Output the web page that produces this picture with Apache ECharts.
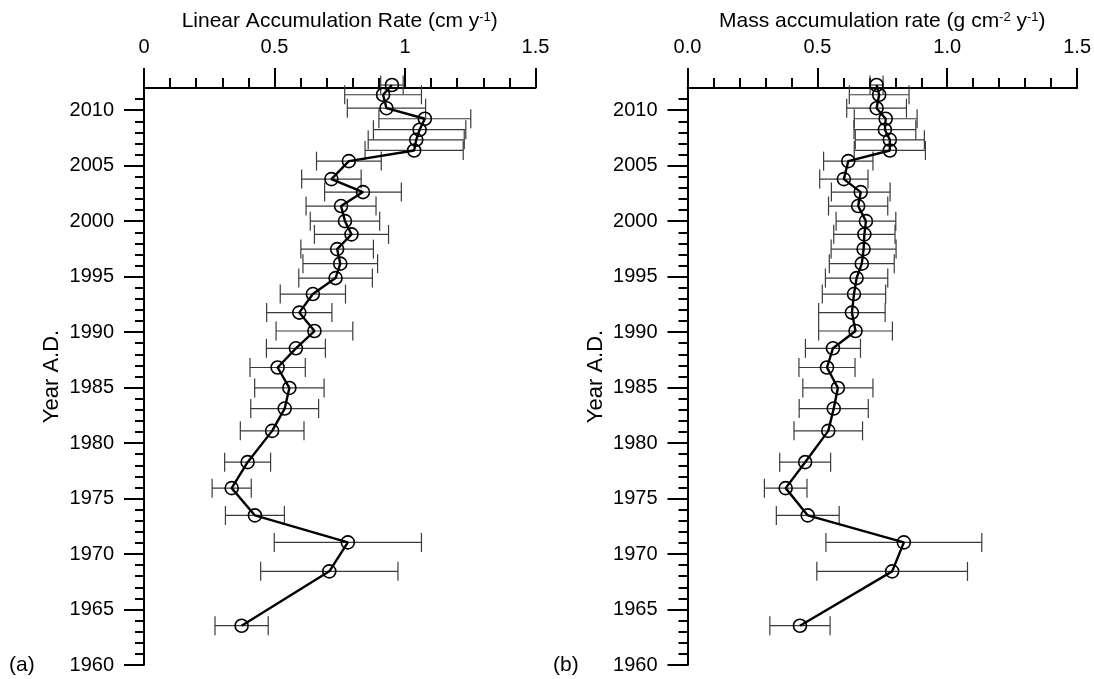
<!DOCTYPE html>
<html>
<head>
<meta charset="utf-8">
<script src="https://cdn.jsdelivr.net/npm/echarts@6/dist/echarts.min.js"></script>
<style>html,body{margin:0;padding:0;background:#fff}#c{width:1094px;height:679px}</style>
</head>
<body>
<div id="c"></div>
<script>
// ---- data ----
const years = [2012.27, 2011.39, 2010.18, 2009.23, 2008.24, 2007.33, 2006.37, 2005.41, 2003.79, 2002.62,
  2001.36, 2000.00, 1998.81, 1997.48, 1996.17, 1994.87, 1993.43, 1991.76, 1990.10, 1988.54,
  1986.81, 1984.97, 1983.11, 1981.10, 1978.28, 1975.94, 1973.48, 1971.05, 1968.44, 1963.54];
const linearRate = [0.950, 0.916, 0.929, 1.076, 1.056, 1.043, 1.035, 0.785, 0.718, 0.839,
  0.755, 0.770, 0.795, 0.740, 0.752, 0.734, 0.647, 0.595, 0.653, 0.582,
  0.512, 0.557, 0.539, 0.491, 0.397, 0.336, 0.425, 0.781, 0.710, 0.374];
const linearErr = [0.043, 0.147, 0.150, 0.176, 0.177, 0.184, 0.188, 0.124, 0.114, 0.147,
  0.134, 0.133, 0.142, 0.139, 0.143, 0.141, 0.125, 0.125, 0.147, 0.113,
  0.106, 0.133, 0.130, 0.122, 0.088, 0.075, 0.113, 0.282, 0.263, 0.102];
const massRate = [0.728, 0.738, 0.728, 0.763, 0.760, 0.779, 0.779, 0.619, 0.602, 0.667,
  0.657, 0.687, 0.681, 0.678, 0.671, 0.651, 0.641, 0.633, 0.647, 0.560,
  0.537, 0.579, 0.563, 0.542, 0.453, 0.378, 0.463, 0.833, 0.788, 0.433];
const massErr = [0.025, 0.115, 0.115, 0.121, 0.119, 0.133, 0.137, 0.095, 0.093, 0.113,
  0.114, 0.115, 0.118, 0.125, 0.125, 0.120, 0.122, 0.128, 0.142, 0.106,
  0.108, 0.135, 0.133, 0.132, 0.098, 0.082, 0.121, 0.300, 0.290, 0.116];
const yTicks = [1960, 1965, 1970, 1975, 1980, 1985, 1990, 1995, 2000, 2005, 2010];
const linearTicks = [0, 0.5, 1, 1.5];
const linearTickLabels = ['0', '0.5', '1', '1.5'];
const massTicks = [0, 0.5, 1, 1.5];
const massTickLabels = ['0.0', '0.5', '1.0', '1.5'];

// ---- chart ----
const FONT = 'Liberation Sans, Arial, sans-serif';
const chart = echarts.init(document.getElementById('c'), null, {renderer: 'canvas'});

function xAxisDef(gridIndex, name, ticks, labels) {
  return {
    type: 'value', gridIndex, position: 'top', min: 0, max: 1.5, interval: 0.5,
    name, nameLocation: 'middle', nameGap: 55,
    nameTextStyle: {fontSize: 21, fontFamily: FONT, color: '#000',
      rich: {sup: {fontSize: 13, fontFamily: FONT, color: '#000', verticalAlign: 'top'}}},
    axisLine: {show: true, lineStyle: {color: '#000', width: 2}},
    axisTick: {show: true, inside: false, length: 20, lineStyle: {color: '#000', width: 2}},
    minorTick: {show: true, splitNumber: 5, length: 10, lineStyle: {color: '#000', width: 2}},
    splitLine: {show: false}, minorSplitLine: {show: false},
    axisLabel: {margin: 31, fontSize: 20, fontFamily: FONT, color: '#000',
      formatter: v => { const i = ticks.findIndex(t => Math.abs(t - v) < 1e-9); return i >= 0 ? labels[i] : ''; }}
  };
}
function yAxisDef(gridIndex) {
  return {
    type: 'value', gridIndex, min: 1960, max: 2012, interval: 5,
    name: 'Year A.D.', nameLocation: 'middle', nameGap: 81,
    nameTextStyle: {fontSize: 22, fontFamily: FONT, color: '#000'},
    axisLine: {show: true, onZero: false, lineStyle: {color: '#000', width: 2}},
    axisTick: {show: true, inside: false, length: 20, customValues: yTicks, lineStyle: {color: '#000', width: 2}},
    minorTick: {show: true, splitNumber: 5, length: 9, lineStyle: {color: '#000', width: 2}},
    splitLine: {show: false}, minorSplitLine: {show: false},
    axisLabel: {margin: 30, fontSize: 20, fontFamily: FONT, color: '#000', customValues: yTicks,
      formatter: v => String(v)}
  };
}
function errRender(params, api) {
  const y = api.value(1), lo = api.value(2), hi = api.value(3);
  const p1 = api.coord([lo, y]);
  const p2 = api.coord([hi, y]);
  const h = 9.5;
  const style = {stroke: '#3a3a3a', lineWidth: 1.2};
  return {type: 'group', children: [
    {type: 'line', shape: {x1: p1[0], y1: p1[1], x2: p2[0], y2: p2[1]}, style},
    {type: 'line', shape: {x1: p1[0], y1: p1[1] - h, x2: p1[0], y2: p1[1] + h}, style},
    {type: 'line', shape: {x1: p2[0], y1: p2[1] - h, x2: p2[0], y2: p2[1] + h}, style}
  ]};
}
function seriesFor(idx, vals, errs) {
  const errData = vals.map((v, i) => [v, years[i], v - errs[i], v + errs[i]]);
  const lineData = vals.map((v, i) => [v, years[i]]);
  return [
    {type: 'custom', xAxisIndex: idx, yAxisIndex: idx, renderItem: errRender, clip: false,
      encode: {x: [0, 2, 3], y: 1}, data: errData, z: 1, silent: true},
    {type: 'line', xAxisIndex: idx, yAxisIndex: idx, data: lineData, clip: false, z: 3,
      symbol: 'circle', symbolSize: 13, showAllSymbol: true,
      lineStyle: {color: '#000', width: 2.4},
      itemStyle: {color: 'rgba(0,0,0,0)', borderColor: '#000', borderWidth: 1.6},
      animation: false}
  ];
}

chart.setOption({
  animation: false,
  backgroundColor: '#fff',
  textStyle: {fontFamily: FONT},
  title: [
    {text: '(a)', left: 9, top: 655, padding: 0, textStyle: {fontSize: 21, fontWeight: 'normal', fontFamily: FONT, color: '#000'}},
    {text: '(b)', left: 553, top: 655, padding: 0, textStyle: {fontSize: 21, fontWeight: 'normal', fontFamily: FONT, color: '#000'}}
  ],
  grid: [
    {left: 144, right: 558.5, top: 88, bottom: 14, containLabel: false},
    {left: 687.5, right: 16.5, top: 88, bottom: 14, containLabel: false}
  ],
  xAxis: [
    xAxisDef(0, 'Linear Accumulation Rate (cm y{sup|-1})', linearTicks, linearTickLabels),
    xAxisDef(1, 'Mass accumulation rate (g cm{sup|-2} y{sup|-1})', massTicks, massTickLabels)
  ],
  yAxis: [yAxisDef(0), yAxisDef(1)],
  series: [...seriesFor(0, linearRate, linearErr), ...seriesFor(1, massRate, massErr)]
});
</script>
</body>
</html>
